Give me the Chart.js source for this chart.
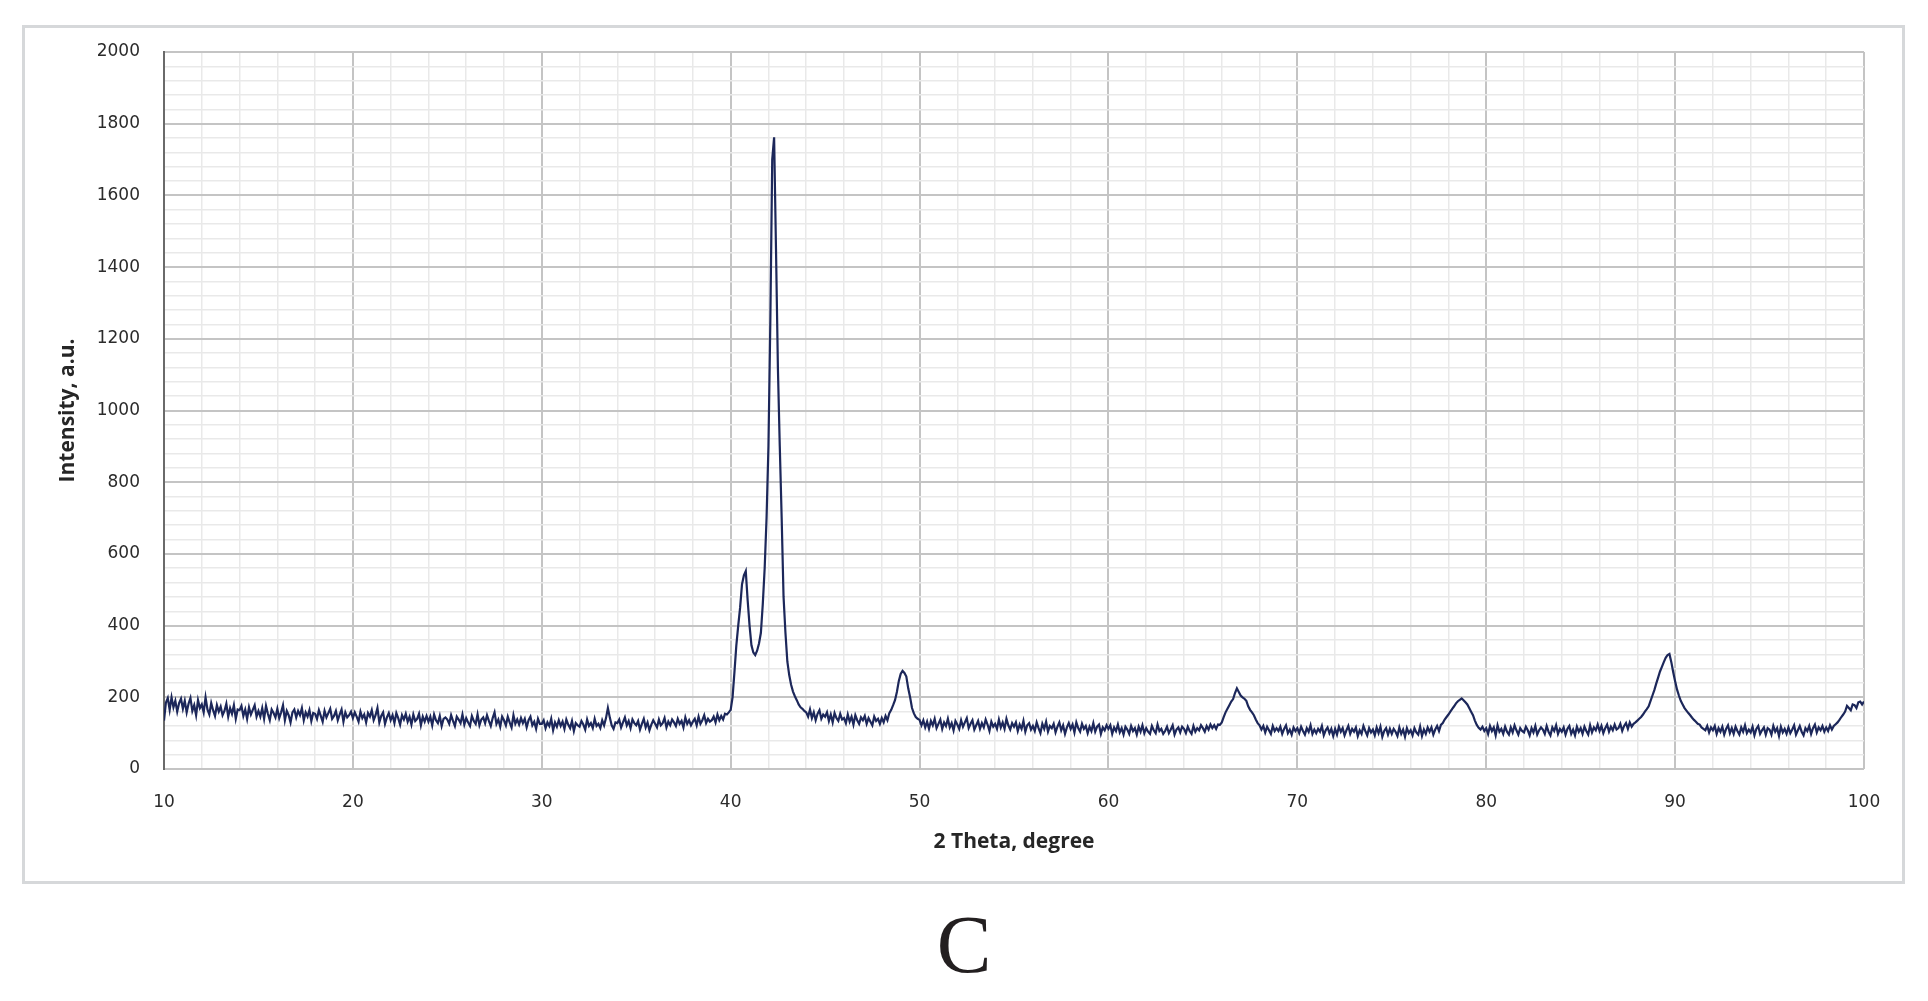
<!DOCTYPE html>
<html>
<head>
<meta charset="utf-8">
<script src="https://cdn.jsdelivr.net/npm/chart.js@4/dist/chart.umd.min.js"></script>
<style>
	html, body { margin: 0; padding: 0; background: #fff; }
	canvas { display: block; }
</style>
</head>
<body>
<canvas id="xrdChart" width="1928" height="1001"></canvas>
<script>
// scan: 2 theta from 10 to 100 deg, one reading every 0.1 deg
const thetaStart = 10;
const thetaStep = 0.1;

// intensity readings, one row per degree (x.0 .. x.9)
const intensity10to40 = [
	135,185,198,165,200,172,190,160,184,196, // 10
	168,190,158,182,198,162,178,150,192,170, // 11
	180,158,200,166,152,184,164,148,178,160, // 12
	174,150,162,182,146,170,154,178,140,166, // 13
	164,176,148,166,140,172,152,165,178,146, // 14
	162,146,170,140,176,154,136,166,156,144, // 15
	168,142,158,178,136,162,150,130,158,166, // 16
	144,162,150,170,136,158,146,164,134,156, // 17
	154,140,164,148,132,162,144,156,168,140, // 18
	148,162,136,152,166,132,158,144,150,160, // 19
	142,158,146,132,160,142,152,130,156,146, // 20
	164,136,150,170,130,148,158,126,144,156, // 21
	136,150,128,156,142,124,150,138,154,132, // 22
	146,124,152,134,140,154,122,146,132,148, // 23
	132,146,122,152,136,128,148,120,140,144, // 24
	138,126,150,134,120,146,138,128,152,124, // 25
	142,130,120,148,134,126,152,122,138,144, // 26
	128,150,134,120,142,158,126,138,118,146, // 27
	136,122,146,130,116,150,126,138,124,142, // 28
	128,140,116,136,146,122,132,112,140,126, // 29
	126,136,114,130,120,140,108,130,118,136, // 30
	120,132,112,138,124,114,134,106,128,122, // 31
	118,134,124,110,138,120,128,114,140,120, // 32
	126,114,136,122,142,170,144,122,112,130, // 33
	128,138,116,130,144,122,134,114,138,128, // 34
	122,134,110,126,140,116,130,108,124,136, // 35
	126,116,138,122,128,142,116,132,122,138, // 36
	130,120,140,126,134,116,144,126,136,122, // 37
	132,140,122,146,126,136,150,128,140,132, // 38
	136,146,130,152,136,148,138,154,152,158  // 39
];
const intensity40to50 = [
	165,200,270,345,400,450,515,540,552,470, // 40
	400,345,325,318,330,350,380,460,560,700, // 41
	900,1250,1700,1762,1450,1120,900,700,480,380, // 42
	300,262,235,216,203,192,180,172,168,162, // 43
	158,146,166,142,158,136,154,164,140,152, // 44
	146,158,134,152,130,156,142,134,154,138, // 45
	142,128,152,132,146,124,150,136,126,144, // 46
	136,148,126,142,132,122,146,134,140,126, // 47
	142,130,148,136,156,165,178,192,215,245, // 48
	265,274,268,258,225,200,170,155,145,140  // 49
];
const intensity50to70 = [
	137,122,136,116,132,112,134,122,140,114, // 50
	126,138,112,130,120,140,116,128,108,134, // 51
	124,112,136,118,130,142,114,126,136,110, // 52
	122,134,112,128,116,138,124,106,132,118, // 53
	126,112,138,116,130,112,140,122,110,128, // 54
	118,130,106,124,112,134,104,122,128,110, // 55
	120,106,130,114,100,126,112,132,104,120, // 56
	114,126,102,118,130,108,122,98,116,128,  // 57
	112,124,102,130,114,104,126,112,120,100, // 58
	118,106,128,104,118,124,98,116,108,122,  // 59
	112,122,98,116,106,124,102,114,96,118,   // 60
	110,98,120,106,114,96,118,104,122,100,   // 61
	114,104,98,120,108,100,124,106,112,98,   // 62
	106,118,100,110,122,96,110,116,102,118,  // 63
	112,100,118,106,98,120,104,114,108,122,  // 64
	114,104,120,110,124,114,122,112,124,123, // 65
	130,145,158,168,178,188,195,212,225,215, // 66
	205,200,196,190,175,165,158,150,138,128, // 67
	122,110,120,102,118,108,98,120,106,114,  // 68
	106,118,98,112,122,100,110,96,116,106    // 69
];
const intensity70to100 = [
	114,100,118,106,96,114,104,122,98,110,   // 70
	100,112,104,120,94,108,116,100,112,92,   // 71
	112,96,118,104,114,94,108,120,98,112,    // 72
	104,116,92,108,98,120,106,94,114,102,    // 73
	110,94,116,100,118,90,106,114,96,112,    // 74
	98,112,104,92,116,98,110,90,114,100,     // 75
	108,94,114,102,96,118,92,110,98,116,     // 76
	104,116,96,110,120,106,123,128,138,145,  // 77
	152,160,168,175,183,189,193,197,192,186, // 78
	180,170,160,150,135,123,115,110,118,106, // 79
	114,98,120,106,116,94,122,104,112,98,    // 80
	118,104,96,116,102,122,108,96,114,106,   // 81
	102,118,108,94,114,102,120,96,108,116,   // 82
	110,98,120,104,94,116,106,122,98,112,    // 83
	104,116,96,112,120,98,110,94,118,104,    // 84
	114,98,118,106,96,122,102,116,108,124,   // 85
	106,120,100,114,124,104,118,108,124,110, // 86
	114,126,106,120,128,112,130,118,126,130, // 87
	135,140,145,152,160,167,175,190,205,220, // 88
	238,255,272,285,298,310,318,321,298,270, // 89
	245,222,205,190,180,170,163,156,150,143, // 90
	137,132,126,124,116,112,108,120,102,116, // 91
	108,120,98,114,104,118,96,112,122,100,   // 92
	114,98,118,106,96,116,104,122,100,110,   // 93
	102,118,94,112,120,98,108,116,96,114,    // 94
	110,96,120,104,114,92,118,102,112,98,    // 95
	116,100,110,122,96,108,120,104,94,114,   // 96
	106,120,98,114,124,102,116,108,120,104,  // 97
	116,106,122,110,120,125,130,137,145,152, // 98
	160,176,170,164,180,178,170,186,188,180, // 99
	188                                      // 100
];

const xTickLabels = [10, 20, 30, 40, 50, 60, 70, 80, 90, 100];
const yTickLabels = [0, 200, 400, 600, 800, 1000, 1200, 1400, 1600, 1800, 2000];

const intensity = intensity10to40.concat(intensity40to50, intensity50to70, intensity70to100);
const points = intensity.map(function(v, i){
	return {x: Math.round((thetaStart + i * thetaStep) * 10) / 10, y: v};
});

const majorGrid = '#c4c4c4';
const minorGrid = '#e9e9e9';

const frameAndLetter = {
	id: 'frameAndLetter',
	beforeDraw: (chart) => {
		const {ctx, width, height} = chart;
		ctx.save();
		ctx.fillStyle = '#ffffff';
		ctx.fillRect(0, 0, width, height);
		ctx.strokeStyle = '#d6d8da';
		ctx.lineWidth = 3;
		ctx.strokeRect(23.5, 26.5, 1880, 856);
		ctx.restore();
	},
	afterDraw: (chart) => {
		const ctx = chart.ctx;
		ctx.save();
		ctx.fillStyle = '#231f20';
		ctx.font = '82px "Liberation Serif", "DejaVu Serif", serif';
		ctx.textAlign = 'center';
		ctx.textBaseline = 'alphabetic';
		ctx.fillText('C', 964, 972);
		ctx.restore();
	}
};

const config = {
	type: 'line',
	data: {
		datasets: [{
			label: 'XRD',
			data: points,
			borderColor: '#1c275a',
			borderWidth: 2.2,
			pointRadius: 0,
			tension: 0,
			fill: false
		}]
	},
	options: {
		responsive: false,
		devicePixelRatio: 1,
		animation: false,
		parsing: false,
		layout: {
			padding: {left: 55, top: 52, right: 64, bottom: 132}
		},
		plugins: {
			legend: {display: false},
			tooltip: {enabled: false}
		},
		scales: {
			x: {
				type: 'linear',
				min: 10,
				max: 100,
				afterFit: (scale) => { scale.height = 100; },
				border: {display: false},
				grid: {
					drawTicks: false,
					color: (c) => (c.tick && c.tick.value % 10 === 0) ? majorGrid : minorGrid,
					lineWidth: (c) => (c.tick && c.tick.value % 10 === 0) ? 2 : 1.5
				},
				ticks: {
					stepSize: 2,
					autoSkip: false,
					maxRotation: 0,
					padding: 23,
					color: '#2b2b2b',
					font: {family: '"DejaVu Sans", sans-serif', size: 17},
					callback: (v) => xTickLabels.includes(v) ? String(v) : ''
				},
				title: {
					display: true,
					text: '2 Theta, degree',
					color: '#262626',
					padding: {top: 0, bottom: 14},
					font: {family: '"Open Sans", sans-serif', size: 21, weight: 'bold'}
				}
			},
			y: {
				min: 0,
				max: 2000,
				afterFit: (scale) => { scale.width = 109; },
				border: {display: true, color: '#6a6a6a', width: 2},
				grid: {
					drawTicks: false,
					color: (c) => (c.tick && c.tick.value % 200 === 0) ? majorGrid : minorGrid,
					lineWidth: (c) => (c.tick && c.tick.value % 200 === 0) ? 2 : 1.5
				},
				ticks: {
					stepSize: 40,
					autoSkip: false,
					padding: 24,
					color: '#2b2b2b',
					font: {family: '"DejaVu Sans", sans-serif', size: 17},
					callback: (v) => yTickLabels.includes(v) ? String(v) : ''
				},
				title: {
					display: true,
					text: 'Intensity, a.u.',
					color: '#262626',
					padding: 0,
					font: {family: '"Open Sans", sans-serif', size: 21, weight: 'bold'}
				}
			}
		}
	},
	plugins: [frameAndLetter]
};

const xrdChart = new Chart(document.getElementById('xrdChart'), config);
</script>
</body>
</html>
